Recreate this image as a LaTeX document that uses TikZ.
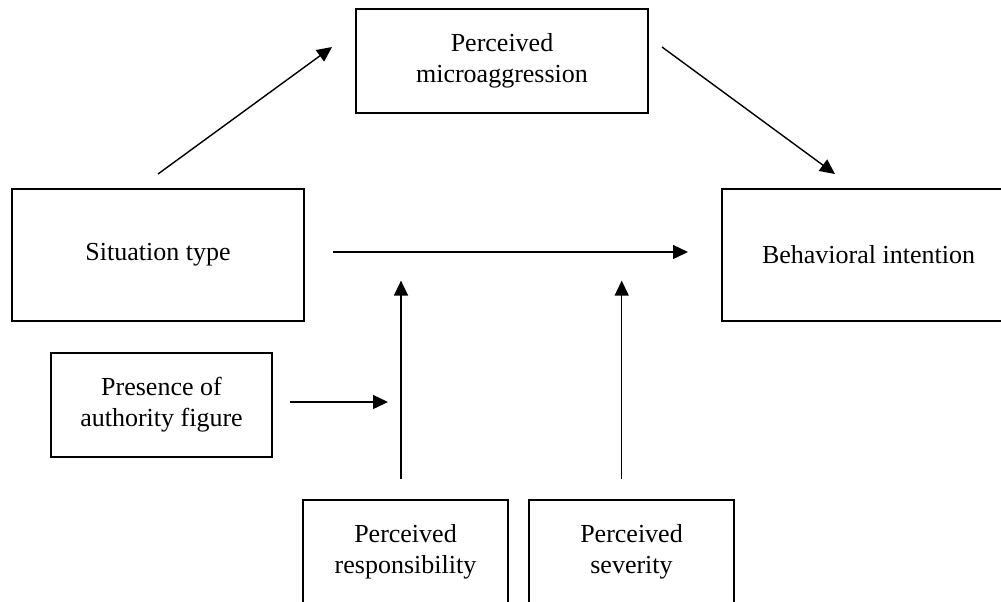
\documentclass[tikz,border=0pt]{standalone}
\usepackage{fontspec}
\setmainfont{Liberation Serif}
\usepackage{tikz}
\usetikzlibrary{arrows.meta,positioning}
\tikzset{
  mbox/.style={draw=black, line width=1pt, align=center, font=\fontsize{13}{15.5}\selectfont, inner sep=0pt, outer sep=0pt, minimum height=66pt, minimum width=146pt},
  mboxs/.style={mbox, minimum height=52pt, minimum width=102.5pt},
  marr/.style={-{Triangle[length=7.5pt,width=7pt]}, line width=0.7pt}
}
\begin{document}
\begin{tikzpicture}
\useasboundingbox (0,0) rectangle (500.5pt,-300.5pt);
\node[mbox] (sit) at (79pt,-127.5pt) {Situation type};
\node[mbox, minimum width=170pt, right=209pt of sit] (beh) {\makebox[130pt][l]{Behavioral intention}};
\node[mbox, minimum height=52pt, above right=38pt and 26pt of sit] (micro) {Perceived\\microaggression};
\node[mboxs, minimum width=110.5pt, below=16pt of sit, xshift=1.75pt] (pres) {Presence of\\authority figure};
\node[mboxs, below right=21.5pt and 15.5pt of pres] (resp) {Perceived\\responsibility};
\node[mboxs, right=10.5pt of resp] (sev) {Perceived\\severity};
\coordinate (m1) at ([xshift=-2.25pt,yshift=109.7pt]resp.north);
\coordinate (m2) at ([xshift=-4.9pt,yshift=109.7pt]sev.north);
\coordinate (m3) at ([xshift=58pt,yshift=1.5pt]pres.east);
\draw[marr] ([yshift=7.5pt]sit.north) -- ([xshift=-12pt,yshift=7pt]micro.west);
\draw[marr] ([xshift=7pt,yshift=7pt]micro.east) -- ([xshift=-28.5pt,yshift=7.5pt]beh.north);
\draw[marr] ([xshift=14.5pt,yshift=1.5pt]sit.east) -- ([xshift=-17pt,yshift=1.5pt]beh.west);
\draw[marr] ([xshift=9pt,yshift=1.5pt]pres.east) -- (m3);
\draw[marr] ([xshift=-2.25pt,yshift=10.5pt]resp.north) -- (m1);
\draw[marr] ([xshift=-4.9pt,yshift=10.5pt]sev.north) -- (m2);
\end{tikzpicture}
\end{document}
